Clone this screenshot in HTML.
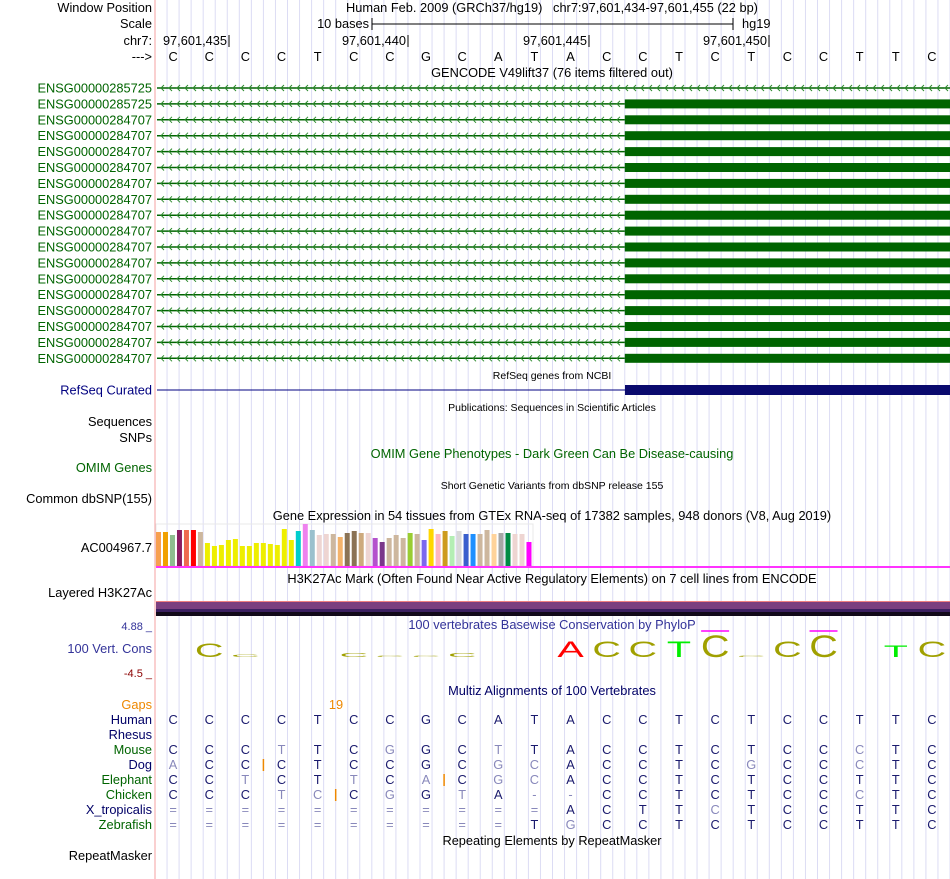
<!DOCTYPE html>
<html><head><meta charset="utf-8"><style>
html,body{margin:0;padding:0;background:#fff;width:950px;height:879px;overflow:hidden}
svg{display:block;font-family:"Liberation Sans",sans-serif}
</style></head><body>
<svg id="s" width="950" height="879" viewBox="0 0 950 879"></svg>
<script>
// ---- data ----
const bases = "CCCCTCCGCATACCTCTCCTTC".split("");
const geneLabels = ["ENSG00000285725","ENSG00000285725","ENSG00000284707","ENSG00000284707","ENSG00000284707","ENSG00000284707","ENSG00000284707","ENSG00000284707","ENSG00000284707","ENSG00000284707","ENSG00000284707","ENSG00000284707","ENSG00000284707","ENSG00000284707","ENSG00000284707","ENSG00000284707","ENSG00000284707","ENSG00000284707"];
const geneThickStart = [null,13,13,13,13,13,13,13,13,13,13,13,13,13,13,13,13,13];
const gtexValues = [34,34,31,36,36,36,34,23,20,21,26,27,20,20,23,23,22,21,37,26,35,42,36,31,32,32,29,33,35,33,33,28,24,28,31,28,33,32,26,37,32,35,30,35,32,32,32,36,32,33,33,32,32,24];
const gtexColors = ["#f79f4f","#f0a000","#8fbc8f","#8b1c62","#ee6a50","#ff0000","#cdb79e","#eeee00","#eeee00","#eeee00","#eeee00","#eeee00","#eeee00","#eeee00","#eeee00","#eeee00","#eeee00","#eeee00","#eeee00","#eeee00","#00cdcd","#ee82ee","#9ac0cd","#eed5d2","#eed5d2","#cdb79e","#f4b36b","#8b7355","#8b7355","#cdaa7d","#eed5d2","#b452cd","#7a378b","#cdb79e","#cdb79e","#cdb79e","#9acd32","#cdb79e","#7b68ee","#ffd700","#ffb6c1","#cd9b1d","#b4eeb4","#d9d9d9","#3a5fcd","#1e90ff","#cdb79e","#cdb79e","#ffd39b","#a6a6a6","#008b45","#eed5d2","#eed5d2","#ff00ff"];
const consLetters = ["","C","C","","","C","C","C","C","","","A","C","C","T","C","C","C","C","","T","C"];
const consHeights = [0,15,3,0,0,4,1,1,4,0,0,17,17,17,17,24,1,17,24,0,13,17];
const consColors = {A:"#ff0000",C:"#a0a000",T:"#00ee00",G:"#ff0000"};
const species = ["Human","Rhesus","Mouse","Dog","Elephant","Chicken","X_tropicalis","Zebrafish"];
const speciesColor = ["#000066","#000066","#006400","#000066","#006400","#006400","#000066","#006400"];
const alignSeq = ["CCCCTCCGCATACCTCTCCTTC","","CCCTTCGGCTTACCTCTCCCTC","ACCCTCCGCGCACCTCGCCCTC","CCTCTTCACGCACCTCTCCTTC","CCCTCCGGTA--CCTCTCCCTC","===========ACTTCTCCTTC","==========TGCCTCTCCTTC"];
const alignLight = ["0000000000000000000000","","0001001001000000000100","1000000001100000100100","0010010101100000000000","0001101010110000000100","0000000000000001000000","0000000000010000000000"];
const gapMarks = [[3,3],[5,5],[4,8]];

const S=document.getElementById('s');const NS="http://www.w3.org/2000/svg";
function el(t,a,txt,p){const e=document.createElementNS(NS,t);for(const k in a)e.setAttribute(k,a[k]);if(txt!=null)e.textContent=txt;(p||S).appendChild(e);return e;}
const X0=155,X1=950,BW=(X1-X0)/bases.length;
const bx=i=>X0+BW*(i+0.5);
const FS=12.8;
function label(x,y,t,c,anchor,size,name){const e=el('text',{x:x,y:y,fill:c||'#000','font-size':size||FS,'text-anchor':anchor||'end'},t);return e;}

for(let x=X0+BW/3;x<X1;x+=BW/3){el('line',{x1:x,y1:0,x2:x,y2:879,stroke:'#dcdcf4','stroke-width':1});}
el('line',{x1:X0,y1:0,x2:X0,y2:879,stroke:'#f4a0a0','stroke-width':1});

label(152,12,"Window Position",'#000','end',FS,'window-position-label');
label(552,12,"Human Feb. 2009 (GRCh37/hg19)   chr7:97,601,434-97,601,455 (22 bp)",'#000','middle',FS,'position-title').setAttribute('style','white-space:pre');
label(152,28,"Scale",'#000','end',FS,'scale-label');
label(369,28,"10 bases",'#000','end',FS,'scale-text');
el('line',{x1:372,y1:24,x2:733,y2:24,stroke:'#000'});el('line',{x1:372,y1:18,x2:372,y2:30,stroke:'#000'});el('line',{x1:733,y1:18,x2:733,y2:30,stroke:'#000'});
label(742,28,"hg19",'#000','start',FS,'assembly-label');
label(152,45,"chr7:",'#000','end',FS,'chrom-label');
[["97,601,435",229],["97,601,440",408],["97,601,445",589],["97,601,450",769]].forEach(([t,x],i)=>{label(x-2,45,t,'#000','end',FS,'coord-tick-'+i);el('line',{x1:x,y1:35,x2:x,y2:47,stroke:'#000'});});
label(152,61,"--->",'#000','end',FS,'strand-label');
bases.forEach((b,i)=>label(bx(i),61,b,'#000','middle',FS,'ref-base'));
label(552,77,"GENCODE V49lift37 (76 items filtered out)",'#000','middle',FS,'gencode-title');

geneLabels.forEach((g,r)=>{const y=88+r*15.9;
 label(152,y+4.5,g,'#006400','end',FS,'gene-label');
 const end=geneThickStart[r]==null?X1:X0+BW*geneThickStart[r];
 el('line',{x1:X0+2,y1:y,x2:end,y2:y,stroke:'#006400','stroke-width':1.5});
 let d="";for(let x=X0+6;x<end-3;x+=8){d+=`M${x+3},${y-3}L${x},${y}L${x+3},${y+3}`;}
 el('path',{d:d,stroke:'#2e8b2e',fill:'none','stroke-width':1});
 if(geneThickStart[r]!=null){const g2=el('rect',{x:end,y:y-4.5,width:X1-end,height:9,fill:'#006400'});}
});
label(552,379,"RefSeq genes from NCBI",'#000','middle',10.5,'refseq-title');
label(152,394.5,"RefSeq Curated",'#000080','end',FS,'refseq-label');
el('line',{x1:X0+2,y1:390,x2:625,y2:390,stroke:'#000080'});
el('rect',{x:625,y:385,width:325,height:10,fill:'#0a0a6e'});
label(552,411,"Publications: Sequences in Scientific Articles",'#000','middle',10.5,'publications-title');
label(152,426,"Sequences",'#000','end',FS,'sequences-label');
label(152,442,"SNPs",'#000','end',FS,'snps-label');
label(552,458,"OMIM Gene Phenotypes - Dark Green Can Be Disease-causing",'#006400','middle',FS,'omim-title');
label(152,472,"OMIM Genes",'#006400','end',FS,'omim-label');
label(552,489,"Short Genetic Variants from dbSNP release 155",'#000','middle',10.5,'dbsnp-title');
label(152,503,"Common dbSNP(155)",'#000','end',FS,'dbsnp-label');
label(552,520,"Gene Expression in 54 tissues from GTEx RNA-seq of 17382 samples, 948 donors (V8, Aug 2019)",'#000','middle',FS,'gtex-title');
label(152,552,"AC004967.7",'#000','end',FS,'gtex-gene-label');
const gBase=566,gScale=1.0,gStep=6.99;
el('rect',{x:156,y:524,width:377,height:42,fill:'none',stroke:'#e8e8e8'});
gtexValues.forEach((v,i)=>{const h=v*gScale;const r=el('rect',{x:156+i*gStep,y:gBase-h,width:5,height:h,fill:gtexColors[i]});
 });
el('rect',{x:156,y:566,width:794,height:2,fill:'#ff33ff'});
label(552,583,"H3K27Ac Mark (Often Found Near Active Regulatory Elements) on 7 cell lines from ENCODE",'#000','middle',FS,'h3k27ac-title');
label(152,597,"Layered H3K27Ac",'#000','end',FS,'h3k27ac-label');
el('rect',{x:156,y:601,width:794,height:1,fill:'#f08080'});
el('rect',{x:156,y:602,width:794,height:7,fill:'#7b3f7f'});
el('rect',{x:156,y:609,width:794,height:3,fill:'#3b2060'});
el('rect',{x:156,y:612,width:794,height:4,fill:'#120a1a'});
label(552,629,"100 vertebrates Basewise Conservation by PhyloP",'#333399','middle',FS,'phylop-title');
label(152,630,"4.88 _",'#333399','end',11,'phylop-max');
label(152,653,"100 Vert. Cons",'#333399','end',FS,'phylop-label');
label(152,677,"-4.5 _",'#8b0000','end',11,'phylop-min');
consLetters.forEach((c,i)=>{const h=consHeights[i];if(!c||!h)return;
 const sy=h/17;const t=el('text',{x:0,y:0,fill:consColors[c],'font-size':22,'text-anchor':'middle',transform:`translate(${bx(i)},657) scale(1.8,${Math.max(sy,0.08)})`},c);
 
 if(h>20)el('line',{x1:bx(i)-14,y1:631,x2:bx(i)+14,y2:631,stroke:'#ff00ff','stroke-width':1.5});});
label(552,695,"Multiz Alignments of 100 Vertebrates",'#000066','middle',FS,'multiz-title');
label(152,709,"Gaps",'#ee8800','end',FS,'gaps-label');
label(336,709,"19",'#ee8800','middle',FS,'gap-count');
species.forEach((sp,k)=>{const y=724+k*15;
 label(152,y,sp,speciesColor[k],'end',FS,'species-label');
 const seq=alignSeq[k];for(let i=0;i<seq.length;i++){const light=alignLight[k][i]==='1'||seq[i]==='-'||seq[i]==='=';
  label(bx(i),y,seq[i],light?'#8888bb':'#1a1a6e','middle',FS,'aligned-base');}
});
gapMarks.forEach(([k,i])=>{const x=X0+BW*i;el('line',{x1:x,y1:714+k*15,x2:x,y2:726+k*15,stroke:'#ee8800','stroke-width':1.5});});
label(552,845,"Repeating Elements by RepeatMasker",'#000','middle',FS,'repeatmasker-title');
label(152,860,"RepeatMasker",'#000','end',FS,'repeatmasker-label');
</script>
</body></html>
